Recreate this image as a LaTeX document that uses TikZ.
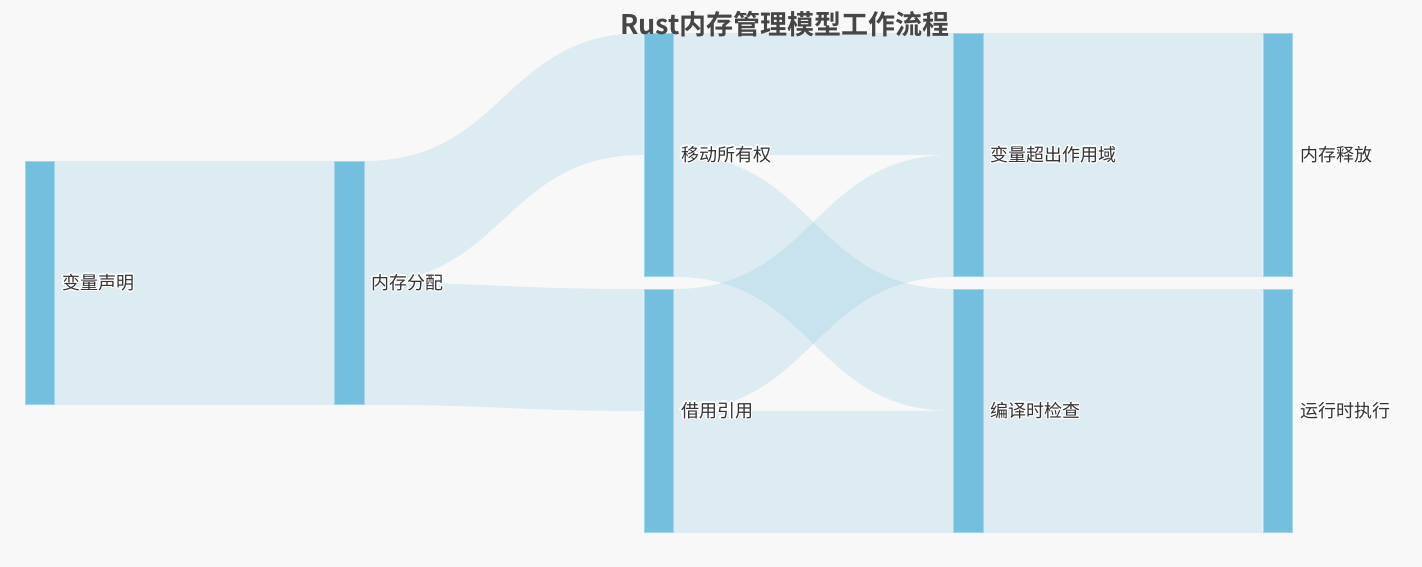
\documentclass[tikz,border=0pt]{standalone}
\usepackage{fontspec}
\setmainfont{Noto Sans CJK SC}[BoldFont={Noto Sans CJK SC Bold}]
\usepackage{contour}
\contourlength{1.2pt}
\usetikzlibrary{calc}
\usetikzlibrary{backgrounds}
\definecolor{barblue}{HTML}{75BFDE}
\definecolor{barline}{HTML}{A3D4E9}
\definecolor{pagebg}{HTML}{F8F8F8}
\definecolor{txt}{HTML}{333333}
\definecolor{ttl}{HTML}{464646}
\tikzset{
  bar/.style={rectangle, fill=barblue, draw=barline, line width=0.8pt,
    minimum width=29.5pt, minimum height=243pt, inner sep=0pt, anchor=north west},
  lbl/.style={anchor=west, inner sep=0pt, text=txt, font=\fontsize{18}{21}\selectfont},
  flowfill/.style={fill=barblue, fill opacity=0.2}
}
% band from source #1 (part #2..#3 of its right side) to target #4 (part #5..#6 of its left side)
\newcommand{\flow}[6]{%
  \fill[flowfill] ($(#1.north east)!#2!(#1.south east)$)
    .. controls +(140,0) and +(-140,0) .. ($(#4.north west)!#5!(#4.south west)$)
    -- ($(#4.north west)!#6!(#4.south west)$)
    .. controls +(-140,0) and +(140,0) .. ($(#1.north east)!#3!(#1.south east)$) -- cycle;}

\begin{document}
\begin{tikzpicture}[x=1pt,y=-1pt]
  \useasboundingbox (0,0) rectangle (1422,567);
        \node[bar] (A) at (24.5,161) {};
        \node[bar] (B) at (334,161) {};
        \node[bar] (C) at (643.5,33) {};
        \node[bar] (D) at (643.5,289) {};
        \node[bar] (E) at (953,33) {};
        \node[bar] (F) at (953,289) {};
        \node[bar] (G) at (1262.5,33) {};
        \node[bar] (H) at (1262.5,289) {};
  \begin{scope}[on background layer]
        \fill[pagebg] (0,0) rectangle (1422,567);
        \flow{A}{0}{1}{B}{0}{1}
        \flow{B}{0}{0.5}{C}{0}{0.5}
        \flow{B}{0.5}{1}{D}{0}{0.5}
        \flow{C}{0}{0.5}{E}{0}{0.5}
        \flow{C}{0.5}{1}{F}{0}{0.5}
        \flow{D}{0}{0.5}{E}{0.5}{1}
        \flow{D}{0.5}{1}{F}{0.5}{1}
        \flow{E}{0}{1}{G}{0}{1}
        \flow{F}{0}{1}{H}{0}{1}
  \end{scope}
        \node[lbl] (a) at ($(A.east)+(7,0)$) {\contour{white}{变量声明}};
        \node[lbl] (b) at ($(B.east)+(7,0)$) {\contour{white}{内存分配}};
        \node[lbl] (c) at ($(C.east)+(7,0)$) {\contour{white}{移动所有权}};
        \node[lbl] (d) at ($(D.east)+(7,0)$) {\contour{white}{借用引用}};
        \node[lbl] (e) at ($(E.east)+(7,0)$) {\contour{white}{变量超出作用域}};
        \node[lbl] (f) at ($(F.east)+(7,0)$) {\contour{white}{编译时检查}};
        \node[lbl] (g) at ($(G.east)+(7,0)$) {\contour{white}{内存释放}};
        \node[lbl] (h) at ($(H.east)+(7,0)$) {\contour{white}{运行时执行}};
        \node[font=\bfseries\fontsize{27}{32}\selectfont, text=ttl] (T) at (785,24) {Rust内存管理模型工作流程};
\end{tikzpicture}
\end{document}
